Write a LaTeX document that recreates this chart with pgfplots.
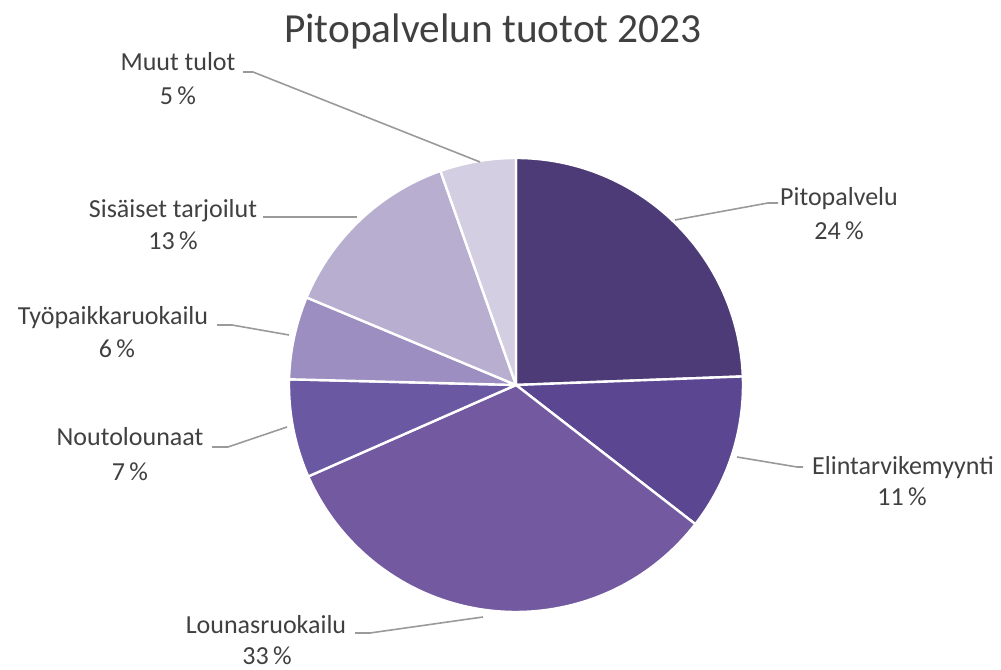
\documentclass[border=0pt]{standalone}
\usepackage{pgfplots}
\usepackage{pgfplotstable}
\usepackage{fontspec}
\setmainfont{Carlito}
\pgfplotsset{compat=1.18}

\definecolor{slice0}{HTML}{4C3B76}
\definecolor{slice1}{HTML}{5B4692}
\definecolor{slice2}{HTML}{7359A0}
\definecolor{slice3}{HTML}{6B58A2}
\definecolor{slice4}{HTML}{9D8EC2}
\definecolor{slice5}{HTML}{B8AFD0}
\definecolor{slice6}{HTML}{D3CEE2}
\definecolor{txt}{HTML}{404040}
\definecolor{leader}{HTML}{9A9A9A}

% share of each slice (%), clockwise from 12 o'clock
\pgfplotstableread{
value
24.4
11.1
32.9
7.0
5.9
13.3
5.4
}\piedata

% cumulative start/end angles
\def\cum{90}
\pgfplotsforeachungrouped \i in {0,...,6}{%
  \pgfplotstablegetelem{\i}{value}\of\piedata
  \pgfmathsetmacro\endang{\cum-3.6*\pgfplotsretval}%
  \expandafter\xdef\csname sa\i\endcsname{\cum}%
  \expandafter\xdef\csname ea\i\endcsname{\endang}%
  \xdef\cum{\endang}%
}

\begin{document}
\begin{tikzpicture}
\begin{axis}[
  scale only axis,
  width=750.75pt, height=502.5pt,
  xmin=0, xmax=1001, ymin=0, ymax=670,
  hide axis, clip=false,
  ]
  \path (axis cs:0,0) rectangle (axis cs:1001,670);

  %% slices
  \pgfplotsinvokeforeach{0,...,6}{
    \filldraw[fill=slice#1, draw=white, line width=1.8pt, line join=round]
      (axis cs:516,285) --
      (axis cs:{516+227*cos(\csname sa#1\endcsname)},{285+227*sin(\csname sa#1\endcsname)})
      arc[start angle=\csname sa#1\endcsname, end angle=\csname ea#1\endcsname, radius=227]
      -- cycle;
  }

  %% leader lines
  \begin{scope}[leader, line width=1.2pt]
    \draw (axis cs:675,450) -- (axis cs:768,467) -- (axis cs:778,467);
    \draw (axis cs:737,213) -- (axis cs:797,203) -- (axis cs:803,203);
    \draw (axis cs:483,53) -- (axis cs:370,37) -- (axis cs:355,37);
    \draw (axis cs:287,243) -- (axis cs:228,223) -- (axis cs:212,223);
    \draw (axis cs:289,335) -- (axis cs:232,345) -- (axis cs:217,345);
    \draw (axis cs:357,453) -- (axis cs:263,453);
    \draw (axis cs:480,508) -- (axis cs:253,598) -- (axis cs:243,598);
  \end{scope}

  %% labels
  \begin{scope}[every node/.style={text=txt, anchor=base, inner sep=0pt, font=\fontsize{19.5}{24}\selectfont}]
    \node at (axis cs:839,464) {Pitopalvelu};
    \node at (axis cs:839,430) {24\,\%};
    \node at (axis cs:903,195) {Elintarvikemyynti};
    \node at (axis cs:902,164) {11\,\%};
    \node at (axis cs:266,36) {Lounasruokailu};
    \node at (axis cs:267,5) {33\,\%};
    \node at (axis cs:130,224) {Noutolounaat};
    \node at (axis cs:130,189) {7\,\%};
    \node at (axis cs:113,345) {Työpaikkaruokailu};
    \node at (axis cs:117,312) {6\,\%};
    \node at (axis cs:173,452) {Sisäiset tarjoilut};
    \node at (axis cs:173,420) {13\,\%};
    \node at (axis cs:178,599) {Muut tulot};
    \node at (axis cs:178,565) {5\,\%};
  \end{scope}

  %% title
  \node[text=txt, anchor=base, inner sep=0pt, font=\fontsize{31}{36}\selectfont]
    at (axis cs:493,627) {Pitopalvelun tuotot 2023};
\end{axis}
\end{tikzpicture}
\end{document}
